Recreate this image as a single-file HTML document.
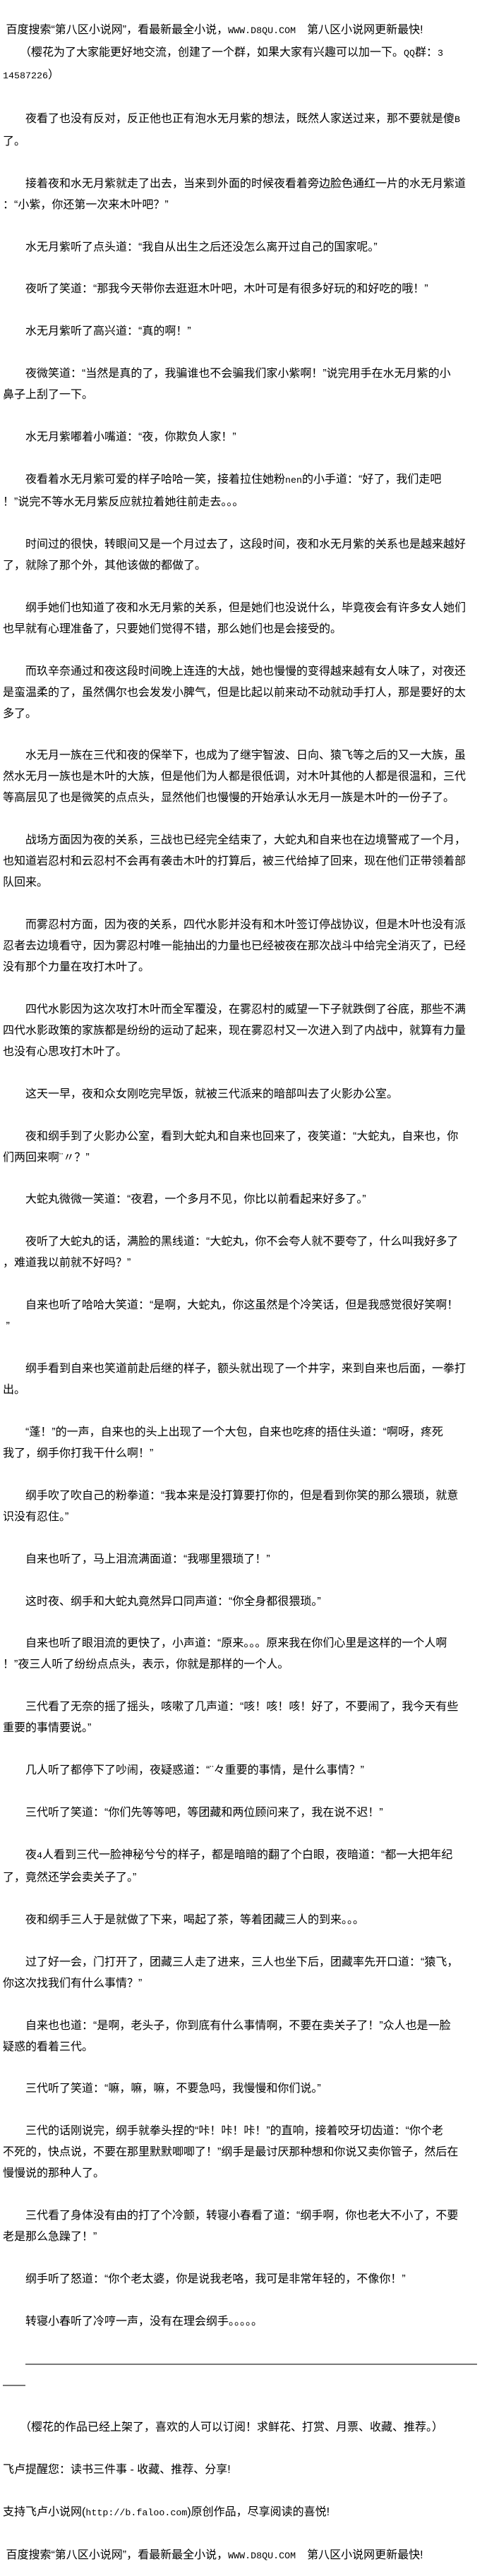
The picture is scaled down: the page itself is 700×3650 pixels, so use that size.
<!DOCTYPE html>
<html><head><meta charset="utf-8">
<style>
html,body{margin:0;padding:0;background:#fff;}
body{width:700px;height:3650px;overflow:hidden;}
#t{position:absolute;left:4px;top:28px;white-space:pre;font-family:"Liberation Sans","Noto Sans CJK SC",sans-serif;font-size:16px;line-height:29.95px;color:#000;}
.a{font-family:"Liberation Mono","Noto Sans CJK SC",monospace;font-size:13.33px;}
</style></head><body>
<div id="t"> 百度搜索“第八区小说网”，看最新最全小说，<span class="a">WWW.D8QU.COM  </span>第八区小说网更新最快!
　　（樱花为了大家能更好地交流，创建了一个群，如果大家有兴趣可以加一下。<span class="a">QQ</span>群：<span class="a">3</span>
<span class="a">14587226</span>）

　　夜看了也没有反对，反正他也正有泡水无月紫的想法，既然人家送过来，那不要就是傻<span class="a">B</span>
了。

　　接着夜和水无月紫就走了出去，当来到外面的时候夜看着旁边脸色通红一片的水无月紫道
：“小紫，你还第一次来木叶吧？”

　　水无月紫听了点头道：“我自从出生之后还没怎么离开过自己的国家呢。”

　　夜听了笑道：“那我今天带你去逛逛木叶吧，木叶可是有很多好玩的和好吃的哦！”

　　水无月紫听了高兴道：“真的啊！”

　　夜微笑道：“当然是真的了，我骗谁也不会骗我们家小紫啊！”说完用手在水无月紫的小
鼻子上刮了一下。

　　水无月紫嘟着小嘴道：“夜，你欺负人家！”

　　夜看着水无月紫可爱的样子哈哈一笑，接着拉住她粉<span class="a">nen</span>的小手道：“好了，我们走吧
！”说完不等水无月紫反应就拉着她往前走去。。。

　　时间过的很快，转眼间又是一个月过去了，这段时间，夜和水无月紫的关系也是越来越好
了，就除了那个外，其他该做的都做了。

　　纲手她们也知道了夜和水无月紫的关系，但是她们也没说什么，毕竟夜会有许多女人她们
也早就有心理准备了，只要她们觉得不错，那么她们也是会接受的。

　　而玖辛奈通过和夜这段时间晚上连连的大战，她也慢慢的变得越来越有女人味了，对夜还
是蛮温柔的了，虽然偶尔也会发发小脾气，但是比起以前来动不动就动手打人，那是要好的太
多了。

　　水无月一族在三代和夜的保举下，也成为了继宇智波、日向、猿飞等之后的又一大族，虽
然水无月一族也是木叶的大族，但是他们为人都是很低调，对木叶其他的人都是很温和，三代
等高层见了也是微笑的点点头，显然他们也慢慢的开始承认水无月一族是木叶的一份子了。

　　战场方面因为夜的关系，三战也已经完全结束了，大蛇丸和自来也在边境警戒了一个月，
也知道岩忍村和云忍村不会再有袭击木叶的打算后，被三代给掉了回来，现在他们正带领着部
队回来。

　　而雾忍村方面，因为夜的关系，四代水影并没有和木叶签订停战协议，但是木叶也没有派
忍者去边境看守，因为雾忍村唯一能抽出的力量也已经被夜在那次战斗中给完全消灭了，已经
没有那个力量在攻打木叶了。

　　四代水影因为这次攻打木叶而全军覆没，在雾忍村的威望一下子就跌倒了谷底，那些不满
四代水影政策的家族都是纷纷的运动了起来，现在雾忍村又一次进入到了内战中，就算有力量
也没有心思攻打木叶了。

　　这天一早，夜和众女刚吃完早饭，就被三代派来的暗部叫去了火影办公室。

　　夜和纲手到了火影办公室，看到大蛇丸和自来也回来了，夜笑道：“大蛇丸，自来也，你
们两回来啊¨〃？”

　　大蛇丸微微一笑道：“夜君，一个多月不见，你比以前看起来好多了。”

　　夜听了大蛇丸的话，满脸的黑线道：“大蛇丸，你不会夸人就不要夸了，什么叫我好多了
，难道我以前就不好吗？”

　　自来也听了哈哈大笑道：“是啊，大蛇丸，你这虽然是个冷笑话，但是我感觉很好笑啊！
 ”

　　纲手看到自来也笑道前赴后继的样子，额头就出现了一个井字，来到自来也后面，一拳打
出。

　　“蓬！”的一声，自来也的头上出现了一个大包，自来也吃疼的捂住头道：“啊呀，疼死
我了，纲手你打我干什么啊！”

　　纲手吹了吹自己的粉拳道：“我本来是没打算要打你的，但是看到你笑的那么猥琐，就意
识没有忍住。”

　　自来也听了，马上泪流满面道：“我哪里猥琐了！”

　　这时夜、纲手和大蛇丸竟然异口同声道：“你全身都很猥琐。”

　　自来也听了眼泪流的更快了，小声道：“原来。。。原来我在你们心里是这样的一个人啊
！”夜三人听了纷纷点点头，表示，你就是那样的一个人。

　　三代看了无奈的摇了摇头，咳嗽了几声道：“咳！咳！咳！好了，不要闹了，我今天有些
重要的事情要说。”

　　几人听了都停下了吵闹，夜疑惑道：“¨々重要的事情，是什么事情？”

　　三代听了笑道：“你们先等等吧，等团藏和两位顾问来了，我在说不迟！”

　　夜<span class="a">4</span>人看到三代一脸神秘兮兮的样子，都是暗暗的翻了个白眼，夜暗道：“都一大把年纪
了，竟然还学会卖关子了。”

　　夜和纲手三人于是就做了下来，喝起了茶，等着团藏三人的到来。。。

　　过了好一会，门打开了，团藏三人走了进来，三人也坐下后，团藏率先开口道：“猿飞，
你这次找我们有什么事情？”

　　自来也也道：“是啊，老头子，你到底有什么事情啊，不要在卖关子了！”众人也是一脸
疑惑的看着三代。

　　三代听了笑道：“嘛，嘛，嘛，不要急吗，我慢慢和你们说。”

　　三代的话刚说完，纲手就拳头捏的“咔！咔！咔！”的直响，接着咬牙切齿道：“你个老
不死的，快点说，不要在那里默默唧唧了！”纲手是最讨厌那种想和你说又卖你管子，然后在
慢慢说的那种人了。

　　三代看了身体没有由的打了个冷颤，转寝小春看了道：“纲手啊，你也老大不小了，不要
老是那么急躁了！”

　　纲手听了怒道：“你个老太婆，你是说我老咯，我可是非常年轻的，不像你！”

　　转寝小春听了冷哼一声，没有在理会纲手。。。。。

　　————————————————————————————————————————
——

　　（樱花的作品已经上架了，喜欢的人可以订阅！求鲜花、打赏、月票、收藏、推荐。）

飞卢提醒您：读书三件事 - 收藏、推荐、分享!

支持飞卢小说网(<span class="a">http://b.faloo.com</span>)原创作品，尽享阅读的喜悦!

 百度搜索“第八区小说网”，看最新最全小说，<span class="a">WWW.D8QU.COM  </span>第八区小说网更新最快!</div>
</body></html>
